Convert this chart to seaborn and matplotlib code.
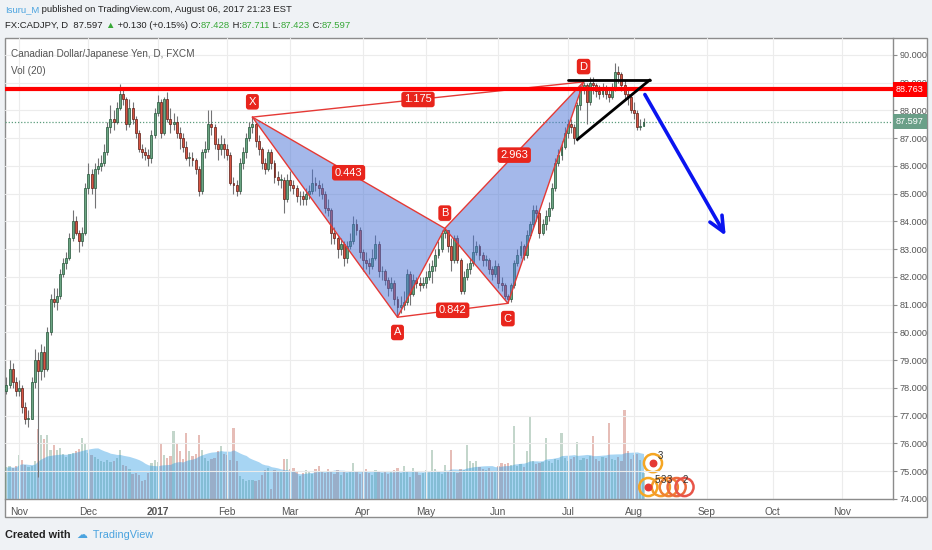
import numpy as np
import pandas as pd
import matplotlib
matplotlib.use("Agg")
import matplotlib.pyplot as plt
import seaborn as sns
from matplotlib.patches import Rectangle

# ---- daily FX:CADJPY bars, first bar 2016-10-26
start_date = "2016-10-26"
first_open = 77.9
closes = [78.1, 78.7, 78.2, 77.9, 78.0, 77.3, 76.9, 76.9, 78.2, 79.0,
          78.6, 79.3, 78.7, 80.0, 81.2, 81.1, 81.3, 82.1, 82.5, 82.7,
          83.4, 84.0, 83.6, 83.3, 83.6, 85.2, 85.7, 85.2, 85.9, 86.0,
          86.1, 86.5, 87.4, 87.7, 87.6, 88.1, 88.6, 88.4, 87.5, 88.1,
          87.7, 87.2, 86.6, 86.5, 86.4, 86.3, 87.1, 87.9, 88.3, 87.2,
          88.4, 87.7, 87.5, 87.6, 87.2, 87.0, 86.7, 86.3, 86.3, 86.2,
          85.9, 85.1, 86.5, 86.6, 87.5, 87.4, 86.8, 86.6, 86.8, 86.6,
          86.4, 85.4, 85.3, 85.1, 86.1, 86.5, 87.0, 87.4, 87.5, 86.9,
          86.6, 86.1, 85.9, 86.5, 86.1, 85.6, 85.5, 85.5, 84.8, 85.5,
          85.3, 85.2, 84.9, 84.9, 84.8, 85.0, 85.1, 85.4, 85.3, 85.2,
          85.0, 84.5, 84.4, 83.6, 83.4, 83.0, 83.2, 82.7, 83.1, 83.3,
          83.9, 83.7, 82.9, 82.6, 82.5, 82.4, 82.7, 83.2, 82.2, 82.2,
          81.9, 81.6, 81.8, 81.2, 80.9, 81.0, 81.1, 82.1, 81.4, 81.9,
          81.8, 81.7, 81.8, 82.0, 82.2, 82.4, 82.8, 83.0, 83.6, 83.7,
          83.1, 82.6, 83.4, 82.6, 81.5, 82.0, 82.3, 82.5, 82.9, 83.1,
          82.8, 82.6, 82.6, 82.3, 82.1, 82.4, 81.8, 81.7, 81.3, 81.2,
          81.7, 82.5, 82.8, 83.1, 82.8, 83.5, 83.9, 84.4, 84.3, 83.6,
          83.9, 84.2, 84.5, 85.2, 86.1, 86.4, 86.7, 87.2, 87.5, 87.4,
          87.0, 88.2, 88.8, 88.9, 88.3, 89.0, 88.9, 88.7, 88.6, 88.8,
          88.6, 88.5, 88.8, 89.4, 89.3, 88.9, 88.6, 88.5, 88.0, 87.9,
          87.4, 87.428, 87.597]
highs = [78.4, 79.0, 78.9, 78.4, 78.3, 78.1, 77.5, 77.2, 78.4, 79.4,
         79.3, 79.6, 79.5, 80.2, 81.4, 81.6, 81.6, 82.3, 82.7, 82.9,
         83.6, 84.4, 84.2, 83.7, 83.8, 85.4, 86.1, 85.9, 86.1, 86.3,
         86.4, 86.8, 87.6, 88.2, 88.0, 88.3, 88.95, 88.8, 88.5, 88.4,
         88.3, 87.8, 87.3, 86.8, 86.7, 86.6, 87.3, 88.1, 88.55, 88.4,
         88.5, 88.66, 88.1, 87.9, 87.8, 87.4, 87.2, 86.9, 86.5, 86.5,
         86.3, 86.0, 86.6, 86.9, 88.0, 88.0, 87.5, 87.0, 87.1, 87.0,
         86.8, 86.5, 85.6, 85.5, 86.3, 86.7, 87.2, 87.6, 87.76, 87.6,
         87.1, 86.7, 86.3, 86.6, 86.6, 86.2, 85.8, 85.7, 85.6, 85.7,
         85.8, 85.5, 85.3, 85.1, 85.1, 85.2, 85.3, 85.9, 85.6, 85.5,
         85.4, 85.1, 84.8, 84.5, 83.8, 83.5, 83.4, 83.3, 83.3, 83.6,
         84.2, 84.1, 83.8, 83.0, 82.9, 82.7, 83.0, 83.5, 83.3, 82.4,
         82.3, 82.0, 82.0, 81.9, 81.3, 81.3, 81.5, 82.3, 82.2, 82.1,
         82.0, 82.0, 82.0, 82.2, 82.5, 82.6, 83.0, 83.3, 83.7, 83.75,
         83.7, 83.4, 83.5, 83.5, 82.7, 82.2, 82.5, 82.7, 83.5, 83.3,
         83.2, 82.9, 82.8, 82.7, 82.4, 82.6, 82.5, 82.0, 81.8, 81.4,
         81.8, 82.6, 83.0, 83.3, 83.2, 83.7, 84.0, 84.6, 84.6, 84.4,
         84.1, 84.4, 84.7, 85.4, 86.3, 86.6, 86.9, 87.4, 87.7, 87.7,
         87.5, 88.3, 88.9, 89.03, 89.0, 89.2, 89.2, 89.0, 88.9, 89.0,
         88.9, 88.8, 89.0, 89.7, 89.6, 89.4, 89.1, 88.8, 88.6, 88.3,
         88.0, 87.7, 87.711]
lows = [77.8, 78.0, 78.0, 77.7, 77.7, 77.1, 76.7, 76.6, 76.9, 78.0,
        74.8, 78.3, 78.4, 78.6, 79.9, 80.9, 80.8, 81.2, 82.0, 82.3,
        82.6, 83.3, 83.5, 82.9, 83.1, 83.5, 85.0, 85.0, 84.5, 85.7,
        85.8, 86.0, 86.4, 87.2, 87.3, 87.5, 88.0, 88.2, 87.3, 87.4,
        87.5, 87.0, 86.5, 86.3, 86.2, 86.0, 86.1, 87.0, 87.8, 87.0,
        87.1, 87.6, 87.2, 87.3, 87.0, 86.6, 86.5, 86.2, 86.0, 86.0,
        85.7, 84.9, 85.0, 86.3, 86.5, 87.1, 86.6, 86.2, 86.4, 86.3,
        86.2, 85.3, 85.0, 84.9, 85.0, 85.9, 86.3, 86.9, 87.2, 86.7,
        86.4, 85.9, 85.7, 85.8, 85.9, 85.4, 85.3, 85.2, 84.3, 84.7,
        85.1, 85.0, 84.7, 84.6, 84.6, 84.6, 84.8, 85.0, 85.1, 84.9,
        84.8, 84.3, 84.2, 83.2, 83.2, 82.7, 82.8, 82.4, 82.5, 83.0,
        83.2, 83.5, 82.7, 82.2, 82.3, 82.1, 82.3, 82.6, 82.0, 81.9,
        81.7, 81.3, 81.5, 81.0, 80.55, 80.7, 80.8, 81.0, 81.0, 81.3,
        81.6, 81.5, 81.6, 81.6, 81.9, 81.8, 82.2, 82.7, 82.9, 83.4,
        82.9, 82.2, 82.5, 82.5, 81.4, 81.4, 81.9, 82.1, 82.4, 82.8,
        82.6, 82.4, 82.4, 82.1, 81.9, 82.0, 81.6, 81.5, 81.2, 81.05,
        81.1, 81.6, 82.4, 82.7, 82.6, 82.7, 83.4, 83.8, 84.0, 83.4,
        83.5, 83.7, 84.0, 84.4, 85.1, 86.0, 86.2, 86.6, 87.0, 87.2,
        86.8, 86.9, 88.0, 88.6, 87.5, 88.2, 88.6, 88.5, 88.4, 88.5,
        88.4, 88.3, 88.4, 88.7, 89.0, 88.7, 88.4, 88.2, 87.9, 87.7,
        87.3, 87.3, 87.423]
volumes = [32, 33, 31, 33, 44, 39, 34, 32, 33, 38,
           70, 64, 60, 64, 49, 54, 49, 51, 45, 42,
           45, 46, 48, 50, 61, 56, 46, 44, 42, 40,
           38, 37, 39, 37, 38, 41, 49, 34, 33, 30,
           25, 26, 24, 18, 19, 26, 36, 39, 37, 56,
           44, 41, 43, 68, 56, 48, 40, 66, 48, 43,
           45, 64, 49, 41, 38, 40, 41, 48, 53, 45,
           44, 39, 71, 38, 23, 20, 18, 19, 19, 18,
           19, 24, 29, 31, 10, 29, 28, 28, 40, 40,
           30, 31, 28, 23, 26, 29, 27, 25, 30, 33,
           28, 26, 30, 27, 25, 29, 24, 27, 26, 28,
           36, 27, 25, 28, 30, 26, 24, 29, 27, 26,
           28, 25, 27, 29, 31, 26, 33, 28, 22, 31,
           27, 24, 26, 29, 28, 49, 30, 27, 25, 34,
           28, 49, 27, 26, 30, 29, 54, 38, 36, 38,
           32, 30, 29, 31, 28, 27, 33, 36, 35, 36,
           34, 73, 33, 35, 32, 48, 83, 38, 35, 36,
           37, 61, 38, 36, 40, 39, 66, 41, 38, 40,
           42, 57, 39, 41, 40, 43, 63, 40, 38, 42,
           41, 76, 40, 39, 42, 38, 89, 48, 40, 44,
           45, 39, 26]

# ---- drawings on the chart (bar index, price)
pattern_names = ["X", "A", "B", "C", "D"]
pattern_idx = [78, 124, 139, 159, 183]
pattern_price = [87.76, 80.55, 83.75, 81.05, 89.03]
ratio_text = {"XB": "0.443", "AC": "0.842", "BD": "2.963", "XD": "1.175"}
resistance = 88.763
last_price = 87.597
tri_idx = [178, 204, 181]
tri_price = [89.1, 89.1, 86.95]
arrow_idx = [202, 228.5]
arrow_price = [88.66, 83.4]
# event icons in the volume pane (bar index, volume units)
event_ring_idx = [205, 203.5, 207.5, 210, 212.5, 215]
event_ring_vol = [36, 12, 12, 12, 12, 12]
event_ring_col = ["#f5a623", "#f5a623", "#f39a2a", "#f08232", "#ec6a3c", "#e85448"]
event_labels = ["3", "5", "3", "3", "2"]
event_label_idx = [207.2, 206.3, 208.2, 210.1, 215.2]
event_label_vol = [43, 19, 19, 19, 19]

opens = [first_open] + closes[:-1]
n = len(closes)
idx = np.arange(n)
dates = pd.bdate_range(start_date, "2017-12-29")

sns.set_style("white")
plt.rcParams["font.family"] = ["Liberation Sans", "DejaVu Sans"]

W, H = 932, 550
fig = plt.figure(figsize=(W / 100, H / 100), dpi=100, facecolor="#eff2f5")


def fbox(x0, y0, x1, y1):
    return [x0 / W, 1 - y1 / H, (x1 - x0) / W, (y1 - y0) / H]


fig.patches.append(Rectangle((5 / W, 1 - 517 / H), 922 / W, 479 / H, transform=fig.transFigure,
                             fc="white", ec="#8c8c8c", lw=1, zorder=-5))

ax = fig.add_axes(fbox(5, 38, 893, 499))
ax2 = ax.twinx()
ax.set_zorder(ax2.get_zorder() + 1)
ax.patch.set_visible(False)

# volume + Vol(20) area
up = np.array(closes) >= np.array(opens)
vol_df = pd.DataFrame({"bar": idx, "volume": volumes, "dir": np.where(up, "up", "down")})
sns.barplot(data=vol_df, x="bar", y="volume", hue="dir", native_scale=True, dodge=False,
            palette={"up": "#6ba583", "down": "#d75442"}, errorbar=None, alpha=0.42,
            width=0.7, linewidth=0, legend=False, ax=ax2)
vol_ma = vol_df["volume"].rolling(20, min_periods=1).mean()
ax2.fill_between(idx, 0, vol_ma, color="#2f9be3", alpha=0.42, lw=0)
ax2.set_ylim(0, max(volumes) * 5.2)
ax2.set_yticks([])
ax2.set_xlabel("")
ax2.set_ylabel("")
for sp in ax2.spines.values():
    sp.set_visible(False)

ax2.scatter(event_ring_idx, event_ring_vol, s=170, facecolors="none", edgecolors=event_ring_col,
            lw=1.8, zorder=6)
ax2.scatter(event_ring_idx[:2], event_ring_vol[:2], s=22, color="#e53935", zorder=7)
for t, xi, yv in zip(event_labels, event_label_idx, event_label_vol):
    ax2.text(xi, yv, t, fontsize=7, color="#333333", ha="center", va="center", zorder=8)

# candles
fills = np.where(up, "#6ba583", "#d75442")
edges = np.where(up, "#225437", "#5b1a13")
body = np.array(closes) - np.array(opens)
body = np.where(np.abs(body) < 0.03, 0.03, body)
ax.vlines(idx, lows, highs, color="#737375", lw=0.8, zorder=3)
ax.bar(idx, body, bottom=opens, width=0.62, color=fills, edgecolor=edges, lw=0.5, zorder=4)

# lines
ax.axhline(last_price, color="#5b9c7c", ls=(0, (1, 1.5)), lw=0.9, zorder=2)
ax.axhline(resistance, color="#ff0000", lw=3, zorder=7)

# harmonic pattern
P = dict(zip(pattern_names, zip(pattern_idx, pattern_price)))
for tri in (("X", "A", "B"), ("B", "C", "D")):
    ax.fill([P[k][0] for k in tri], [P[k][1] for k in tri], color="#4a73d6", alpha=0.5, lw=0, zorder=5)
ax.plot(pattern_idx, pattern_price, color="#e53935", lw=1, zorder=6)
for seg in ratio_text:
    a, b = P[seg[0]], P[seg[1]]
    ax.plot([a[0], b[0]], [a[1], b[1]], color="#e53935", lw=1, zorder=6)
lbl_box = dict(boxstyle="round,pad=0.25", fc="#e8251c", ec="none")
for seg, txt in ratio_text.items():
    a, b = P[seg[0]], P[seg[1]]
    ax.text((a[0] + b[0]) / 2, (a[1] + b[1]) / 2, txt, color="white", fontsize=8,
            ha="center", va="center", bbox=lbl_box, zorder=9)
for name in pattern_names:
    xi, pr = P[name]
    dy = 11 if name in ("X", "B", "D") else -11
    ax.annotate(name, (xi, pr), xytext=(0, dy), textcoords="offset points", color="white",
                fontsize=8, ha="center", va="center", bbox=lbl_box, zorder=9)

# triangle + arrow
ax.plot(tri_idx[:2], tri_price[:2], color="black", lw=2, zorder=8)
ax.plot(tri_idx[1:], tri_price[1:], color="black", lw=2, zorder=8)
ax.annotate("", xy=(arrow_idx[1], arrow_price[1]), xytext=(arrow_idx[0], arrow_price[0]),
            arrowprops=dict(arrowstyle="->,head_length=1.1,head_width=0.5", color="#0a14f0", lw=2.6),
            zorder=8)

# axes
xlim = (-0.44, 281.1)
ax.set_xlim(*xlim)
ax.set_ylim(74.0, 90.61)
ax.yaxis.tick_right()
ax.set_yticks(range(74, 91))
ax.set_yticklabels([f"{v:.3f}" for v in range(74, 91)])
month_idx = [k for k in range(1, len(dates)) if dates[k].month != dates[k - 1].month and k < xlim[1]]
month_lbl = [str(dates[k].year) if dates[k].month == 1 else dates[k].strftime("%b") for k in month_idx]
ax.set_xticks(month_idx)
ax.set_xticklabels(month_lbl)
for t in ax.get_xticklabels():
    if t.get_text().isdigit():
        t.set_fontweight("bold")
ax.tick_params(axis="x", direction="out", length=4, color="#8c8c8c", labelsize=7.3,
               labelcolor="#555555", pad=2)
ax.tick_params(axis="y", direction="out", length=3, color="#8c8c8c", labelsize=6.6,
               labelcolor="#555555", pad=1.5)
ax.grid(True, color="#ececec", lw=0.8)
ax.set_axisbelow(True)
for side in ("top", "left"):
    ax.spines[side].set_visible(False)
for side in ("right", "bottom"):
    ax.spines[side].set_color("#8c8c8c")
    ax.spines[side].set_linewidth(1)

for price, col in ((resistance, "#ff0000"), (last_price, "#6a9f88")):
    ax.annotate(f"{price:.3f}", xy=(1, price), xycoords=("axes fraction", "data"), xytext=(2.2, 0),
                textcoords="offset points", ha="left", va="center", color="white", fontsize=6.6,
                bbox=dict(boxstyle="square,pad=0.3", fc=col, ec="none"), annotation_clip=False, zorder=10)

ax.text(0.007, 0.966, "Canadian Dollar/Japanese Yen, D, FXCM", transform=ax.transAxes,
        fontsize=7.2, color="#555555", va="center")
ax.text(0.007, 0.929, "Vol (20)", transform=ax.transAxes, fontsize=7.2, color="#555555", va="center")

# header / footer rows
renderer = fig.canvas.get_renderer()


def text_row(x_px, y_px, parts, size):
    x = x_px / W
    for s, col, wt in parts:
        t = fig.text(x, 1 - y_px / H, s, color=col, fontsize=size, fontweight=wt, va="center", ha="left")
        x = t.get_window_extent(renderer).x1 / W


green = "#37a837"
text_row(5, 10, [("Isuru_M", "#4aa3df", "normal"),
                 (" published on TradingView.com, August 06, 2017 21:23 EST", "#222222", "normal")], 6.8)
text_row(5, 25, [("FX:CADJPY, D  87.597 ", "#222222", "normal"), ("▲", green, "normal"),
                 (" +0.130 (+0.15%) O:", "#222222", "normal"), ("87.428", green, "normal"),
                 (" H:", "#222222", "normal"), ("87.711", green, "normal"),
                 (" L:", "#222222", "normal"), ("87.423", green, "normal"),
                 (" C:", "#222222", "normal"), ("87.597", green, "normal")], 6.8)
text_row(5, 535, [("Created with  ", "#222222", "bold"), ("☁", "#4aa3df", "normal"),
                  ("  TradingView", "#4aa3df", "normal")], 7.8)

fig.savefig("out.png", dpi=100, facecolor=fig.get_facecolor())
